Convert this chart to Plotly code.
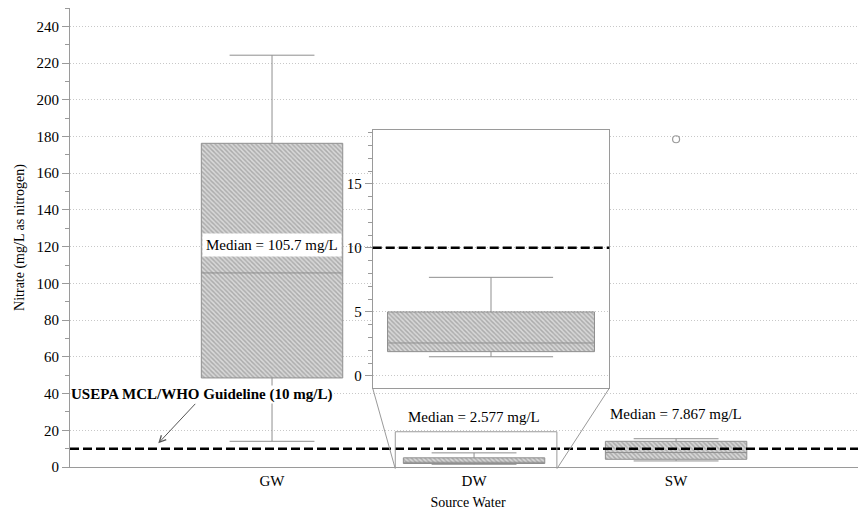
import plotly.graph_objects as go

# ---- data ----
categories = ["GW", "DW", "SW"]
q1 = [48.5, 1.9, 4.2]
median = [105.7, 2.577, 7.867]
q3 = [176.3, 5.0, 14.0]
lower_whisker = [14.0, 1.5, 3.3]
upper_whisker = [224.3, 7.7, 15.4]
outlier_cat = ["SW"]
outlier_val = [178.5]
guideline = 10
median_labels = ["Median = 105.7 mg/L", "Median = 2.577 mg/L", "Median = 7.867 mg/L"]
median_label_y = [120.8, 27.3, 28.6]
guideline_label = "USEPA MCL/WHO Guideline (10 mg/L)"

FONT = "Liberation Serif, Times New Roman, serif"
GRAY = "#9a9a9a"
pattern = dict(shape="\\", size=3.2, solidity=0.45, fgcolor="#7e7e7e", bgcolor="#d8d8d8")

main_xr = [-1.0, 2.94]
main_yr = [0, 250]
inset_xr = [-0.5715, 0.5715]
inset_yr = [-0.96, 19.2]
inset_dom_x = [0.3803, 0.6775]
inset_dom_y = [0.1715, 0.7342]

fig = go.Figure()

# main boxes: hatched fill via bars, box outline/whiskers via box trace
fig.add_trace(go.Bar(x=categories, y=[b - a for a, b in zip(q1, q3)], base=q1, width=0.7,
                     marker=dict(color="#d8d8d8", pattern=pattern, line=dict(width=0)),
                     showlegend=False, hoverinfo="skip"))
fig.add_trace(go.Box(x=categories, q1=q1, median=median, q3=q3,
                     lowerfence=lower_whisker, upperfence=upper_whisker,
                     width=0.7, whiskerwidth=0.6, fillcolor="rgba(0,0,0,0)",
                     line=dict(color="#8f8f8f", width=1), showlegend=False))
fig.add_trace(go.Scatter(x=outlier_cat, y=outlier_val, mode="markers",
                         marker=dict(symbol="circle-open", size=7, color=GRAY, line=dict(width=1.2)),
                         showlegend=False))

# white cover behind inset (subplot x2y2)
fig.add_trace(go.Scatter(x=[0, 1, 1, 0, 0], y=[0, 0, 1, 1, 0], fill="toself",
                         fillcolor="white", mode="lines", line=dict(width=0),
                         xaxis="x2", yaxis="y2", showlegend=False, hoverinfo="skip"))

# inset DW box (subplot x3y3)
i = categories.index("DW")
fig.add_trace(go.Bar(x=[categories[i]], y=[q3[i] - q1[i]], base=[q1[i]], width=1.0,
                     marker=dict(color="#d8d8d8", pattern=pattern, line=dict(width=0)),
                     xaxis="x3", yaxis="y3", showlegend=False, hoverinfo="skip"))
fig.add_trace(go.Box(x=[categories[i]], q1=[q1[i]], median=[median[i]], q3=[q3[i]],
                     lowerfence=[lower_whisker[i]], upperfence=[upper_whisker[i]],
                     width=1.0, whiskerwidth=0.6, fillcolor="rgba(0,0,0,0)",
                     line=dict(color="#8f8f8f", width=1), xaxis="x3", yaxis="y3", showlegend=False))

def to_paper_x(v):
    return (v - main_xr[0]) / (main_xr[1] - main_xr[0])

def to_paper_y(v):
    return (v - main_yr[0]) / (main_yr[1] - main_yr[0])

rect_x = [i - 0.39, i + 0.41]
shapes = [
    dict(type="line", xref="x domain", yref="y", x0=0, x1=1, y0=guideline, y1=guideline,
         line=dict(color="black", width=2.5, dash="9px,4px")),
    dict(type="line", xref="x3 domain", yref="y3", x0=0, x1=1, y0=guideline, y1=guideline,
         line=dict(color="black", width=2.5, dash="9px,4px")),
    dict(type="rect", xref="x", yref="y", x0=rect_x[0], x1=rect_x[1], y0=inset_yr[0], y1=inset_yr[1],
         line=dict(color=GRAY, width=1)),
    dict(type="line", xref="paper", yref="paper", x0=inset_dom_x[0], y0=inset_dom_y[0],
         x1=to_paper_x(rect_x[0]), y1=to_paper_y(inset_yr[0]), line=dict(color=GRAY, width=1)),
    dict(type="line", xref="paper", yref="paper", x0=inset_dom_x[1], y0=inset_dom_y[0],
         x1=to_paper_x(rect_x[1]), y1=to_paper_y(inset_yr[0]), line=dict(color=GRAY, width=1)),
]

annotations = [
    dict(x=categories[0], y=median_label_y[0], xref="x", yref="y", text=median_labels[0],
         showarrow=False, bgcolor="white", borderpad=3, font=dict(size=15)),
    dict(x=categories[1], y=median_label_y[1], xref="x", yref="y", text=median_labels[1],
         showarrow=False, font=dict(size=15)),
    dict(x=categories[2], y=median_label_y[2], xref="x", yref="y", text=median_labels[2],
         showarrow=False, font=dict(size=15)),
    dict(x=-1.0, y=39.7, xref="x", yref="y", text="<b>" + guideline_label + "</b>",
         showarrow=False, xanchor="left", bgcolor="white", borderpad=0, font=dict(size=15)),
    dict(x=-0.563, y=12.9, xref="x", yref="y", ax=-0.373, ay=35.2, axref="x", ayref="y",
         text="", showarrow=True, arrowhead=5, arrowsize=1.3, arrowwidth=1, arrowcolor="#555"),
]

fig.update_layout(
    width=858, height=502,
    margin=dict(l=62, r=0, t=0, b=43),
    paper_bgcolor="white", plot_bgcolor="white",
    font=dict(family=FONT, size=15, color="#000"),
    boxmode="overlay",
    shapes=shapes, annotations=annotations,
    xaxis=dict(range=main_xr, showline=True, mirror=True, linecolor=GRAY, linewidth=1,
               showgrid=False, zeroline=False, ticks="", tickfont=dict(size=15), automargin=False,
               title=dict(text="Source Water", font=dict(size=14), standoff=11), fixedrange=True),
    yaxis=dict(range=main_yr, showline=True, linecolor=GRAY, linewidth=1, zeroline=False,
               dtick=20, tick0=0, ticks="outside", ticklen=7, tickcolor=GRAY, automargin=False,
               tickfont=dict(size=15),
               showgrid=True, gridcolor="#c8c8c8", griddash="1px,2px", gridwidth=1,
               minor=dict(dtick=10, ticks="outside", ticklen=4, tickcolor=GRAY, showgrid=False),
               title=dict(text="Nitrate (mg/L as nitrogen)", font=dict(size=14), standoff=8)),
    xaxis2=dict(domain=inset_dom_x, range=[0, 1], visible=False, anchor="y2"),
    yaxis2=dict(domain=inset_dom_y, range=[0, 1], visible=False, anchor="x2"),
    xaxis3=dict(domain=inset_dom_x, range=inset_xr, anchor="y3", showline=True, mirror=True,
                linecolor=GRAY, linewidth=1, showticklabels=False, ticks="", showgrid=False,
                zeroline=False, automargin=False),
    yaxis3=dict(domain=inset_dom_y, range=inset_yr, anchor="x3", showline=True, mirror=True,
                linecolor=GRAY, linewidth=1, zeroline=False, dtick=5, tick0=0,
                ticks="outside", ticklen=7, tickcolor=GRAY, automargin=False,
                tickfont=dict(size=15),
                showgrid=True, gridcolor="#c8c8c8", griddash="1px,2px", gridwidth=1,
                minor=dict(dtick=1, ticks="outside", ticklen=4, tickcolor=GRAY, showgrid=False)),
)

fig.write_html("out.html")
